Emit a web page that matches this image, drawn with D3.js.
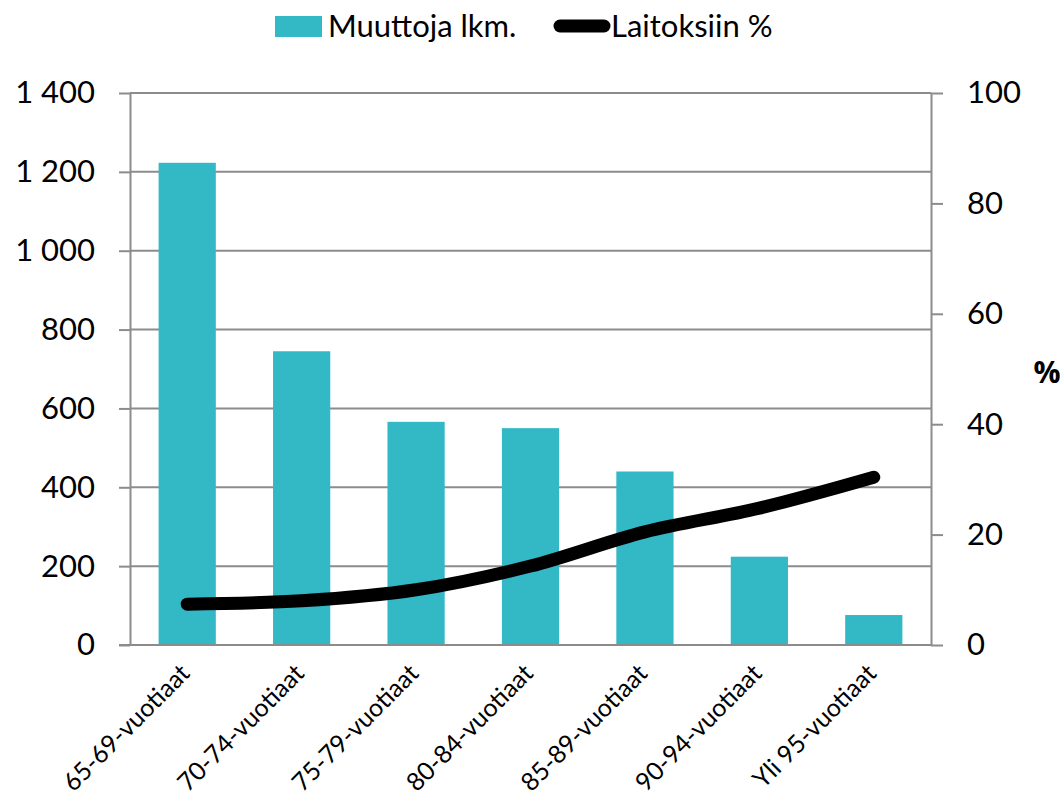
<!DOCTYPE html>
<html>
<head>
<meta charset="utf-8">
<title>Muutot</title>
<script src="https://cdn.jsdelivr.net/npm/d3@7"></script>
<style>
body { margin: 0; background: #fff; }
svg text { font-family: Lato, "Open Sans", sans-serif; fill: #000; }
.axis path, .axis line { stroke: #8c8c8c; stroke-width: 2; }
.grid line { stroke: #8c8c8c; stroke-width: 2; }
</style>
</head>
<body>
<script>
var categories = ["65-69-vuotiaat", "70-74-vuotiaat", "75-79-vuotiaat", "80-84-vuotiaat",
                  "85-89-vuotiaat", "90-94-vuotiaat", "Yli 95-vuotiaat"];
var muuttoja = [1223, 745, 566, 550, 440, 224, 76];
var laitoksiin = [7.4, 8.0, 10.0, 14.3, 20.5, 24.8, 30.4];
var leftTicks = [0, 200, 400, 600, 800, 1000, 1200, 1400];
var rightTicks = [0, 20, 40, 60, 80, 100];
var legendLabels = ["Muuttoja lkm.", "Laitoksiin %"];

var width = 1064, height = 800;
var plotLeft = 130, plotRight = 931, plotTop = 93, plotBottom = 645;
var barColor = "#33b8c6";

var svg = d3.select("body").append("svg")
    .attr("width", width)
    .attr("height", height);

var fi = d3.formatLocale({decimal: ",", thousands: " ", grouping: [3], currency: ["", "€"]});

var x = d3.scaleBand()
    .domain(categories)
    .range([plotLeft, plotRight])
    .paddingInner(0.5)
    .paddingOuter(0.25);
var y = d3.scaleLinear().domain([0, 1400]).range([plotBottom, plotTop]);
var y2 = d3.scaleLinear().domain([0, 100]).range([plotBottom, plotTop]);

// grid
svg.append("g")
    .attr("class", "grid")
    .selectAll("line")
    .data(leftTicks)
    .enter()
    .append("line")
    .attr("x1", plotLeft)
    .attr("x2", plotRight)
    .attr("y1", function(d){ return y(d); })
    .attr("y2", function(d){ return y(d); });

// bars
svg.selectAll("rect.bar")
    .data(muuttoja)
    .enter()
    .append("rect")
    .attr("class", "bar")
    .attr("x", function(d, i){ return x(categories[i]); })
    .attr("y", function(d){ return y(d); })
    .attr("width", x.bandwidth())
    .attr("height", function(d){ return plotBottom - y(d); })
    .attr("fill", barColor);

// axes
var axisL = svg.append("g")
    .attr("class", "axis")
    .attr("transform", "translate(" + plotLeft + ",0)")
    .call(d3.axisLeft(y).tickValues(leftTicks).tickSize(11).tickSizeOuter(0).tickPadding(24).tickFormat(fi.format(",")));
axisL.selectAll("text").style("font-size", "31px");

var axisR = svg.append("g")
    .attr("class", "axis")
    .attr("transform", "translate(" + plotRight + ",0)")
    .call(d3.axisRight(y2).tickValues(rightTicks).tickSize(12).tickSizeOuter(0).tickPadding(24));
axisR.selectAll("text").style("font-size", "31px");

var axisB = svg.append("g")
    .attr("class", "axis")
    .attr("transform", "translate(0," + plotBottom + ")")
    .call(d3.axisBottom(x).tickSize(0).tickSizeOuter(0));
axisB.select("path").attr("d", "M" + (plotLeft - 11) + ",0H" + plotRight);
axisB.selectAll("text")
    .style("font-size", "25px")
    .attr("text-anchor", "end")
    .attr("dy", null)
    .attr("y", 0)
    .attr("transform", "translate(4,30) rotate(-45)");

svg.append("text")
    .attr("x", 1047)
    .attr("y", 383)
    .attr("text-anchor", "middle")
    .style("font-family", "'Open Sans', sans-serif")
    .style("font-size", "30px")
    .style("font-weight", "bold")
    .text("%");

// line
var line = d3.line()
    .x(function(d, i){ return x(categories[i]) + x.bandwidth() / 2; })
    .y(function(d){ return y2(d); })
    .curve(d3.curveCatmullRom);
svg.append("path")
    .datum(laitoksiin)
    .attr("d", line)
    .attr("fill", "none")
    .attr("stroke", "#000")
    .attr("stroke-width", 13)
    .attr("stroke-linecap", "round")
    .attr("stroke-linejoin", "round");

// legend
var lg = svg.append("g");
lg.append("rect")
    .attr("x", 275).attr("y", 16)
    .attr("width", 47).attr("height", 21)
    .attr("fill", barColor);
lg.append("text")
    .attr("x", 328).attr("y", 37)
    .style("font-size", "31px")
    .text(legendLabels[0]);
lg.append("line")
    .attr("x1", 560).attr("x2", 604)
    .attr("y1", 26).attr("y2", 26)
    .attr("stroke", "#000")
    .attr("stroke-width", 13)
    .attr("stroke-linecap", "round");
lg.append("text")
    .attr("x", 611).attr("y", 37)
    .style("font-size", "31px")
    .text(legendLabels[1]);
</script>
</body>
</html>
